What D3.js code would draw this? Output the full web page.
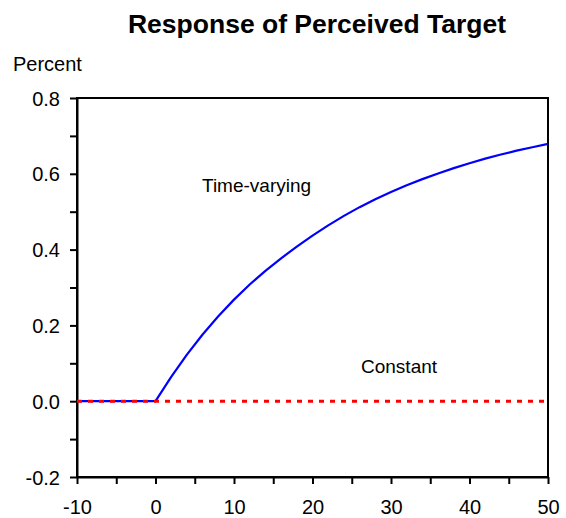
<!DOCTYPE html>
<html>
<head>
<meta charset="utf-8">
<script src="https://cdn.jsdelivr.net/npm/d3@7"></script>
<style>
  body { margin: 0; background: #fff; }
  text { font-family: "Liberation Sans", Arial, sans-serif; fill: #000; }
</style>
</head>
<body>
<svg id="chart" width="566" height="518"></svg>
<script>
// periods and responses
const periods = [-10, -8, -6, -4, -2, 0, 2, 4, 6, 8, 10, 12, 14, 16, 18, 20, 22, 24, 26, 28, 30, 32, 34, 36, 38, 40, 42, 44, 46, 48, 50]
const timeVarying = [0, 0, 0, 0, 0, 0, 0.064, 0.123, 0.176, 0.224, 0.268, 0.308, 0.344, 0.377, 0.408, 0.437, 0.464, 0.489, 0.512, 0.533, 0.552, 0.570, 0.586, 0.601, 0.615, 0.628, 0.640, 0.651, 0.661, 0.670, 0.679]
const constant = [0, 0, 0, 0, 0, 0, 0, 0, 0, 0, 0, 0, 0, 0, 0, 0, 0, 0, 0, 0, 0, 0, 0, 0, 0, 0, 0, 0, 0, 0, 0]

const xTicks = [-10, -5, 0, 5, 10, 15, 20, 25, 30, 35, 40, 45, 50]
const yTicks = [-0.2, -0.1, 0, 0.1, 0.2, 0.3, 0.4, 0.5, 0.6, 0.7, 0.8]

const margin = {top: 98, right: 18, bottom: 41, left: 77}
const width = 566 - margin.left - margin.right
const height = 518 - margin.top - margin.bottom

const svg = d3.select("#chart")
const g = svg.append("g").attr("transform", `translate(${margin.left}, ${margin.top})`)

const x = d3.scaleLinear().domain([-10, 50]).range([0, width])
const y = d3.scaleLinear().domain([-0.2, 0.8]).range([height, 0])

// plain hyphen for negatives, like the original
const fmtX = d => d % 10 === 0 ? String(d) : ""
const fmtY = d => Math.round(d * 10) % 2 === 0 ? d.toFixed(1) : ""

// frame
g.append("rect")
  .attr("width", width).attr("height", height)
  .style("fill", "none").style("stroke", "#000").style("stroke-width", 2)

const xAxis = g.append("g")
  .attr("transform", `translate(0, ${height})`)
  .call(d3.axisBottom(x).tickValues(xTicks).tickSize(7).tickSizeOuter(0).tickFormat(fmtX))
xAxis.select(".domain").style("stroke-width", 2)
xAxis.selectAll(".tick line").style("stroke-width", 2)
xAxis.selectAll(".tick text")
  .attr("y", 0).attr("dy", 0)
  .attr("transform", "translate(0, 37)")
  .style("font-size", "20px").style("font-family", '"Liberation Sans", Arial, sans-serif')

const yAxis = g.append("g")
  .call(d3.axisLeft(y).tickValues(yTicks).tickSize(7).tickSizeOuter(0).tickFormat(fmtY))
yAxis.select(".domain").style("stroke-width", 2)
yAxis.selectAll(".tick line").style("stroke-width", 2)
yAxis.selectAll(".tick text")
  .attr("x", -17).attr("dy", "0.35em")
  .style("font-size", "20px").style("font-family", '"Liberation Sans", Arial, sans-serif')

const line = d3.line().x((d, i) => x(periods[i])).y(d => y(d))

g.append("path")
  .datum(timeVarying)
  .attr("d", line)
  .style("fill", "none").style("stroke", "#0000ff").style("stroke-width", 2.2)
  .style("stroke-linejoin", "round")

g.append("path")
  .datum(constant)
  .attr("d", line)
  .style("fill", "none").style("stroke", "#ff0000").style("stroke-width", 3)
  .style("stroke-dasharray", "5,6")

// labels
g.append("text").text("Time-varying")
  .attr("x", 125).attr("y", 94)
  .style("font-size", "19px")
g.append("text").text("Constant")
  .attr("x", 284).attr("y", 275)
  .style("font-size", "19px")

svg.append("text").text("Percent")
  .attr("x", 13).attr("y", 71)
  .style("font-size", "20px")

svg.append("text").text("Response of Perceived Target")
  .attr("x", 317).attr("y", 33)
  .attr("text-anchor", "middle")
  .style("font-size", "26.5px").style("font-weight", "bold")
</script>
</body>
</html>
